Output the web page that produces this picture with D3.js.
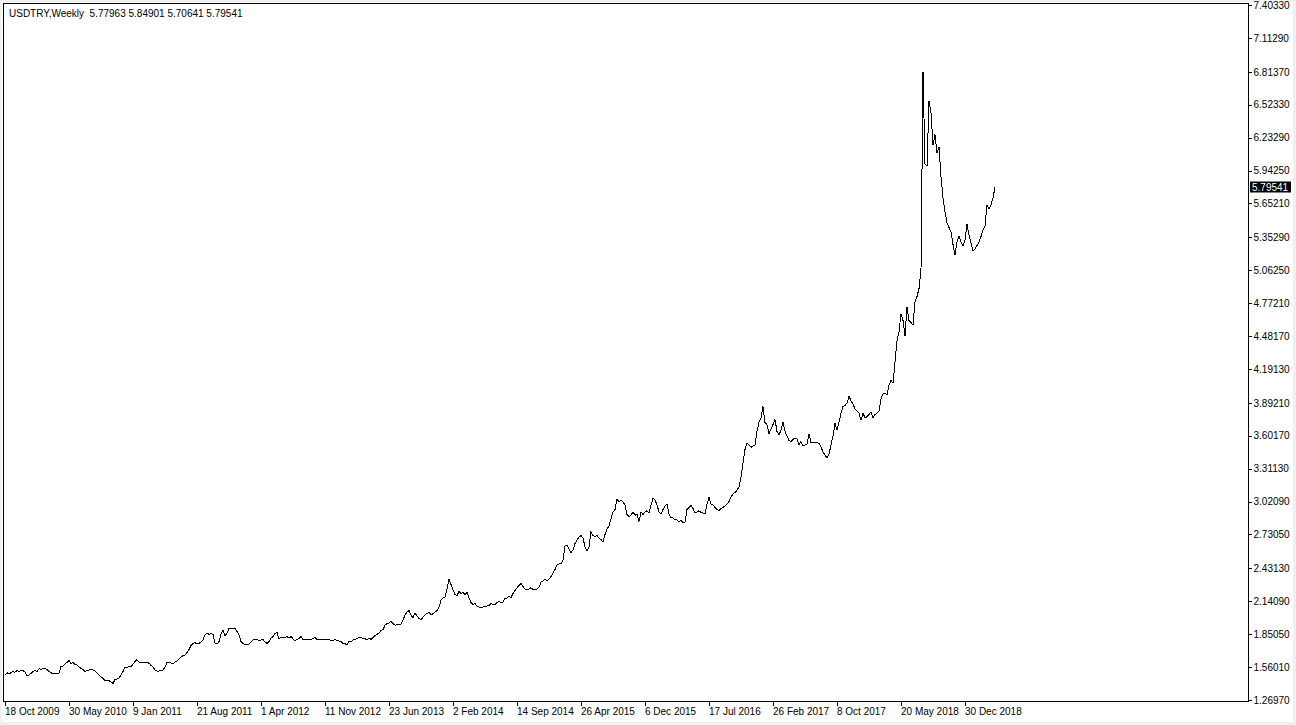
<!DOCTYPE html>
<html>
<head>
<meta charset="utf-8">
<script src="https://cdn.jsdelivr.net/npm/d3@7"></script>
<style>
  body { margin: 0; background: #f0f0f0; }
  svg { display: block; font-family: "Liberation Sans", Arial, sans-serif; font-size: 10px; }
</style>
</head>
<body>
<div id="viz"></div>
<script>
// weekly closes, USDTRY, grouped by the year the week starts in
var close2009 = [1.49, 1.51, 1.50, 1.51, 1.52, 1.515, 1.53, 1.52, 1.535, 1.53, 1.515];
var close2010 = [1.48, 1.49, 1.505, 1.52, 1.535, 1.52, 1.545, 1.54, 1.545, 1.545,
  1.54, 1.52, 1.51, 1.50, 1.50, 1.50, 1.505, 1.565, 1.57, 1.59,
  1.60, 1.62, 1.59, 1.60, 1.585, 1.58, 1.56, 1.55, 1.54, 1.52,
  1.53, 1.535, 1.535, 1.535, 1.525, 1.51, 1.49, 1.475, 1.46, 1.44,
  1.445, 1.44, 1.43, 1.415, 1.45, 1.455, 1.465, 1.49, 1.52, 1.56,
  1.555, 1.57];
var close2011 = [1.565, 1.585, 1.61, 1.625, 1.605, 1.60, 1.605, 1.605, 1.60, 1.595,
  1.575, 1.56, 1.535, 1.525, 1.525, 1.53, 1.535, 1.56, 1.60, 1.605,
  1.595, 1.59, 1.605, 1.615, 1.63, 1.65, 1.66, 1.665, 1.69, 1.715,
  1.75, 1.77, 1.775, 1.765, 1.77, 1.78, 1.80, 1.845, 1.86, 1.85,
  1.855, 1.85, 1.77, 1.765, 1.785, 1.85, 1.89, 1.835, 1.86, 1.90,
  1.90, 1.90];
var close2012 = [1.90, 1.875, 1.845, 1.785, 1.77, 1.76, 1.755, 1.765, 1.78, 1.80,
  1.80, 1.805, 1.79, 1.80, 1.805, 1.78, 1.77, 1.785, 1.815, 1.83,
  1.855, 1.865, 1.81, 1.82, 1.82, 1.82, 1.83, 1.815, 1.83, 1.81,
  1.79, 1.805, 1.81, 1.83, 1.805, 1.805, 1.80, 1.805, 1.805, 1.81,
  1.82, 1.805, 1.80, 1.805, 1.805, 1.80, 1.80, 1.805, 1.79, 1.795,
  1.805, 1.795, 1.79];
var close2013 = [1.785, 1.77, 1.765, 1.76, 1.785, 1.785, 1.80, 1.805, 1.81, 1.82,
  1.82, 1.815, 1.81, 1.80, 1.815, 1.805, 1.82, 1.84, 1.85, 1.86,
  1.885, 1.89, 1.93, 1.945, 1.95, 1.965, 1.945, 1.93, 1.935, 1.94,
  1.94, 1.975, 2.02, 2.045, 2.06, 2.02, 1.995, 2.04, 2.01, 1.99,
  1.975, 2.00, 2.02, 2.035, 2.04, 2.025, 2.03, 2.045, 2.06, 2.09,
  2.15, 2.17];
var close2014 = [2.18, 2.25, 2.335, 2.29, 2.24, 2.20, 2.19, 2.23, 2.21, 2.22,
  2.20, 2.22, 2.17, 2.13, 2.11, 2.12, 2.10, 2.09, 2.08, 2.09,
  2.095, 2.10, 2.105, 2.12, 2.115, 2.11, 2.13, 2.14, 2.13, 2.135,
  2.165, 2.17, 2.185, 2.175, 2.21, 2.235, 2.26, 2.28, 2.30, 2.27,
  2.25, 2.245, 2.25, 2.26, 2.245, 2.24, 2.25, 2.265, 2.31, 2.32,
  2.34, 2.32];
var close2015 = [2.335, 2.36, 2.39, 2.42, 2.46, 2.47, 2.47, 2.50, 2.63, 2.635,
  2.60, 2.57, 2.595, 2.65, 2.68, 2.71, 2.72, 2.70, 2.62, 2.59,
  2.62, 2.755, 2.72, 2.715, 2.72, 2.70, 2.685, 2.665, 2.73, 2.78,
  2.805, 2.87, 2.93, 2.95, 3.04, 3.02, 3.035, 3.02, 2.99, 2.905,
  2.89, 2.90, 2.93, 2.90, 2.91, 2.845, 2.93, 2.905, 2.93, 2.94,
  2.92, 2.99];
var close2016 = [3.05, 3.035, 2.99, 2.93, 2.91, 2.95, 2.98, 3.00, 2.91, 2.88,
  2.875, 2.86, 2.86, 2.84, 2.855, 2.835, 2.84, 2.95, 2.97, 2.985,
  2.96, 2.92, 2.93, 2.94, 2.925, 2.92, 2.91, 3.00, 3.058, 3.00,
  2.99, 2.97, 2.95, 2.94, 2.96, 2.97, 2.98, 3.00, 3.02, 3.06,
  3.09, 3.10, 3.12, 3.15, 3.24, 3.36, 3.48, 3.54, 3.52, 3.50,
  3.51, 3.52];
var close2017 = [3.64, 3.72, 3.76, 3.86, 3.72, 3.70, 3.62, 3.66, 3.70, 3.745,
  3.64, 3.61, 3.65, 3.725, 3.64, 3.60, 3.56, 3.55, 3.57, 3.58,
  3.575, 3.52, 3.55, 3.51, 3.52, 3.53, 3.62, 3.54, 3.54, 3.54,
  3.54, 3.535, 3.50, 3.46, 3.43, 3.41, 3.44, 3.52, 3.60, 3.71,
  3.65, 3.72, 3.80, 3.86, 3.87, 3.89, 3.95, 3.91, 3.88, 3.84,
  3.82, 3.80, 3.74];
var close2018 = [3.80, 3.76, 3.77, 3.79, 3.81, 3.755, 3.79, 3.80, 3.82, 3.93,
  3.97, 3.98, 3.96, 4.05, 4.09, 4.065, 4.25, 4.44, 4.52, 4.68,
  4.62, 4.48, 4.74, 4.62, 4.60, 4.58, 4.78, 4.83, 4.90, 5.07,
  6.815, 6.00, 5.98, 6.56, 6.45, 6.17, 6.26, 6.10, 6.15, 5.89,
  5.70, 5.58, 5.48, 5.44, 5.40, 5.29, 5.20, 5.31, 5.36, 5.31,
  5.28, 5.33];
var close2019 = [5.47, 5.37, 5.30, 5.23, 5.25, 5.28, 5.31, 5.36, 5.42, 5.45,
  5.64, 5.60, 5.64, 5.70, 5.79541];

var symbol = 'USDTRY,Weekly';
var lastBar = [5.77963, 5.84901, 5.70641, 5.79541];   // open high low close
var firstWeek = '18 Oct 2009';

var xTickLabels = ['18 Oct 2009', '30 May 2010', '9 Jan 2011', '21 Aug 2011', '1 Apr 2012',
  '11 Nov 2012', '23 Jun 2013', '2 Feb 2014', '14 Sep 2014', '26 Apr 2015', '6 Dec 2015',
  '17 Jul 2016', '26 Feb 2017', '8 Oct 2017', '20 May 2018', '30 Dec 2018'];
var yTickLabels = [7.40330, 7.11290, 6.81370, 6.52330, 6.23290, 5.94250, 5.65210, 5.35290,
  5.06250, 4.77210, 4.48170, 4.19130, 3.89210, 3.60170, 3.31130, 3.02090, 2.73050,
  2.43130, 2.14090, 1.85050, 1.56010, 1.26970];

var closes = [].concat(close2009, close2010, close2011, close2012, close2013, close2014,
  close2015, close2016, close2017, close2018, close2019);

var parseDate = d3.utcParse('%d %b %Y');
var start = parseDate(firstWeek);
var data = closes.map(function(c, i){
  return {date: d3.utcDay.offset(start, 7 * i), close: c};
});

var width = 1296,
    height = 725,
    frameLeft = 3.5, frameTop = 3.5,
    frameRight = 1248.5, frameBottom = 701.5;

var svg = d3.select('#viz').append('svg')
  .attr('width', width)
  .attr('height', height);

// window background
svg.append('rect')
  .attr('x', 2).attr('y', 2)
  .attr('width', 1291).attr('height', 720)
  .attr('fill', 'white');

var x = d3.scaleUtc()
  .domain([data[0].date, data[data.length - 1].date])
  .range([5, 5 + 2 * (data.length - 1)]);

var y = d3.scaleLinear()
  .domain([d3.min(yTickLabels), d3.max(yTickLabels)])
  .range([700, 5]);

// chart frame
svg.append('rect')
  .attr('x', frameLeft).attr('y', frameTop)
  .attr('width', frameRight - frameLeft).attr('height', frameBottom - frameTop)
  .attr('fill', 'none')
  .attr('stroke', 'black')
  .style('shape-rendering', 'crispEdges');

var line = d3.line()
  .x(function(d){ return x(d.date); })
  .y(function(d){ return y(d.close); });

svg.append('path')
  .datum(data)
  .attr('d', line)
  .attr('fill', 'none')
  .attr('stroke', 'black')
  .attr('stroke-width', 1)
  .style('shape-rendering', 'crispEdges');

// price axis on the right
var yAxis = svg.append('g')
  .attr('transform', 'translate(' + frameRight + ',0)')
  .call(d3.axisRight(y)
    .tickValues(yTickLabels)
    .tickFormat(d3.format('.5f'))
    .tickSize(3)
    .tickPadding(2));
yAxis.select('.domain').remove();
yAxis.selectAll('.tick line').attr('stroke', 'black').style('shape-rendering', 'crispEdges');
yAxis.selectAll('.tick text')
  .attr('fill', 'black')
  .style('font-family', '"Liberation Sans", Arial, sans-serif')
  .style('font-size', '10px');

// time axis at the bottom
var xAxis = svg.append('g')
  .attr('transform', 'translate(0,' + frameBottom + ')')
  .call(d3.axisBottom(x)
    .tickValues(xTickLabels.map(parseDate))
    .tickFormat(function(d, i){ return xTickLabels[i]; })
    .tickSize(4));
xAxis.select('.domain').remove();
xAxis.selectAll('.tick line').attr('stroke', 'black').style('shape-rendering', 'crispEdges');
xAxis.selectAll('.tick text')
  .attr('fill', 'black')
  .attr('text-anchor', 'start')
  .attr('x', -0.5)
  .attr('y', 13.5)
  .attr('dy', null)
  .style('font-family', '"Liberation Sans", Arial, sans-serif')
  .style('font-size', '10px');

// last price tag
var lastY = y(data[data.length - 1].close);
svg.append('rect')
  .attr('x', 1250).attr('y', Math.round(lastY) - 5.5)
  .attr('width', 41).attr('height', 11)
  .attr('fill', 'black');
svg.append('text')
  .attr('x', 1252).attr('y', lastY)
  .attr('dy', '0.35em')
  .attr('fill', 'white')
  .text(d3.format('.5f')(data[data.length - 1].close));

// title line
svg.append('text')
  .attr('x', 9).attr('y', 16.5)
  .style('white-space', 'pre')
  .attr('fill', 'black')
  .text(symbol + '  ' + lastBar.map(d3.format('.5f')).join(' '));
</script>
</body>
</html>
